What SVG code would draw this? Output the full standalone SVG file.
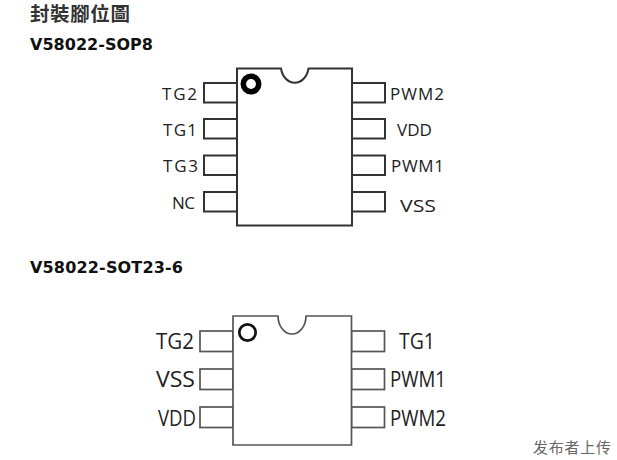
<svg xmlns="http://www.w3.org/2000/svg" width="617" height="460" viewBox="0 0 617 460">
<style>
text{font-family:"Open Sans","Noto Sans","DejaVu Sans",sans-serif;fill:#222;font-weight:500}
.t{font-size:17px}
.s{font-size:22px}
.h{font-family:"DejaVu Sans",sans-serif;font-weight:700;font-size:16px;fill:#111}
.c{font-family:"Noto Sans CJK TC","Noto Sans CJK SC",sans-serif}
.b{fill:#fff;stroke:#333;stroke-width:2}
.g{fill:#fff;stroke:#555;stroke-width:1.7}
</style>
<rect width="617" height="460" fill="#fff"/>
<text class="c" x="30" y="21" font-size="19.5" style="font-weight:700;letter-spacing:.6px;fill:#333">封裝腳位圖</text>
<text class="h" x="30" y="50" textLength="123">V58022-SOP8</text>
<text class="h" x="30" y="273" textLength="153">V58022-SOT23-6</text>
<g id="chip-sop8">
<g id="sop8-pins">
<rect class="b" x="204" y="83" width="33" height="19.500"/>
<rect class="b" x="204" y="119" width="33" height="19.500"/>
<rect class="b" x="204" y="155.500" width="33" height="19.500"/>
<rect class="b" x="204" y="192" width="33" height="19.500"/>
<rect class="b" x="352" y="83" width="33" height="19.500"/>
<rect class="b" x="352" y="119" width="33" height="19.500"/>
<rect class="b" x="352" y="155.500" width="33" height="19.500"/>
<rect class="b" x="352" y="192" width="33" height="19.500"/>
</g>
<path class="b" d="M237 68.500H281A14 17.500 0 0 0 308.500 68.500H352V225.500H237Z"/>
<circle cx="251" cy="84" r="7.700" fill="none" stroke="#000" stroke-width="5.500"/>
<text class="t" x="162" y="99.500" textLength="35">TG2</text>
<text class="t" x="163" y="135.500" textLength="34">TG1</text>
<text class="t" x="163" y="172" textLength="35">TG3</text>
<text class="t" x="172" y="209" textLength="23">NC</text>
<text class="t" x="390" y="99.500" textLength="54">PWM2</text>
<text class="t" x="397" y="136" textLength="35" lengthAdjust="spacingAndGlyphs">VDD</text>
<text class="t" x="391" y="172" textLength="53">PWM1</text>
<text class="t" x="400" y="211.500" textLength="36" lengthAdjust="spacingAndGlyphs">VSS</text>
</g>
<g id="chip-sot23">
<g id="sot23-pins">
<rect class="g" x="200" y="331" width="33" height="20.500"/>
<rect class="g" x="200" y="369" width="33" height="20.500"/>
<rect class="g" x="200" y="407" width="33" height="20.500"/>
<rect class="g" x="351.500" y="331" width="33" height="20.500"/>
<rect class="g" x="351.500" y="369" width="33" height="20.500"/>
<rect class="g" x="351.500" y="407" width="33" height="20.500"/>
</g>
<path class="g" d="M233 316H278A14 18 0 0 0 306 316H351.500V445H233Z"/>
<ellipse cx="247.500" cy="332.500" rx="8.200" ry="8.200" fill="none" stroke="#111" stroke-width="2.700"/>
<text class="s" x="156" y="349" textLength="38" lengthAdjust="spacingAndGlyphs">TG2</text>
<text class="s" x="156" y="387" textLength="39" lengthAdjust="spacingAndGlyphs">VSS</text>
<text class="s" x="158" y="425.500" textLength="38" lengthAdjust="spacingAndGlyphs">VDD</text>
<text class="s" x="399" y="349" textLength="36" lengthAdjust="spacingAndGlyphs">TG1</text>
<text class="s" x="390" y="387" textLength="56" lengthAdjust="spacingAndGlyphs">PWM1</text>
<text class="s" x="390" y="425.500" textLength="56" lengthAdjust="spacingAndGlyphs">PWM2</text>
</g>
<text class="c" x="533" y="453" font-size="15" textLength="78" style="fill:#666;font-weight:400">发布者上传</text>
</svg>
